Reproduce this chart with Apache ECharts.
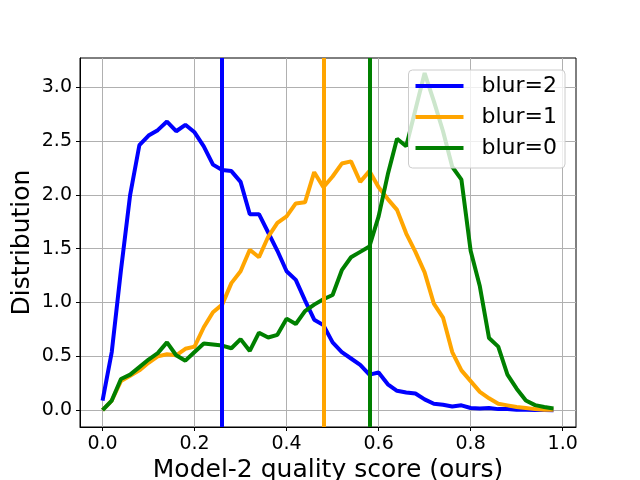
<!DOCTYPE html>
<html>
<head>
<meta charset="utf-8">
<script src="https://cdn.jsdelivr.net/npm/echarts@6/dist/echarts.min.js"></script>
<style>
  html, body { margin: 0; padding: 0; background: #fff; }
  #main { width: 640px; height: 480px; }
</style>
</head>
<body>
<div id="main"></div>
<script>
// x positions of the histogram points (0.00 .. 0.98)
var scores = [];
for (var i = 0; i < 50; i++) scores.push(+(i * 0.02).toFixed(2));

// distribution per blur level
var blur2 = [0.09, 0.54, 1.30, 2.00, 2.46, 2.55, 2.60, 2.68, 2.59, 2.65,
             2.58, 2.45, 2.28, 2.23, 2.22, 2.12, 1.82, 1.82, 1.65, 1.48,
             1.29, 1.21, 1.02, 0.84, 0.79, 0.63, 0.54, 0.48, 0.42, 0.33,
             0.35, 0.24, 0.18, 0.165, 0.155, 0.10, 0.06, 0.05, 0.035, 0.045,
             0.02, 0.015, 0.02, 0.01, 0.01, 0.005, 0.003, 0.002, 0.001, 0.0];
var blur1 = [0.0, 0.09, 0.27, 0.32, 0.37, 0.44, 0.50, 0.52, 0.51, 0.57,
             0.59, 0.77, 0.91, 0.98, 1.18, 1.29, 1.49, 1.42, 1.61, 1.74,
             1.80, 1.92, 1.93, 2.21, 2.07, 2.17, 2.29, 2.31, 2.12, 2.22,
             2.07, 1.96, 1.86, 1.64, 1.47, 1.28, 0.99, 0.86, 0.54, 0.37,
             0.27, 0.17, 0.11, 0.06, 0.045, 0.03, 0.02, 0.01, 0.005, 0.003];
var blur0 = [0.0, 0.09, 0.29, 0.33, 0.40, 0.47, 0.53, 0.63, 0.51, 0.46,
             0.54, 0.62, 0.61, 0.60, 0.575, 0.66, 0.55, 0.72, 0.675, 0.70,
             0.85, 0.80, 0.92, 0.98, 1.03, 1.07, 1.30, 1.42, 1.47, 1.52,
             1.80, 2.19, 2.52, 2.45, 2.79, 3.13, 2.87, 2.59, 2.26, 2.14,
             1.48, 1.15, 0.67, 0.59, 0.33, 0.20, 0.09, 0.047, 0.03, 0.015];

// mean score per blur level (vertical lines)
var means = [0.264, 0.482, 0.582];
var names = ['blur=2', 'blur=1', 'blur=0'];
var colors = ['#0000ff', '#ffa500', '#008000'];
var xTicks = [0, 0.2, 0.4, 0.6, 0.8, 1.0];
var yTicks = [0, 0.5, 1.0, 1.5, 2.0, 2.5, 3.0];

var FONT = 'DejaVu Sans';

function pairs(ys) {
    return scores.map(function (x, i) { return [x, ys[i]]; });
}

var chart = echarts.init(document.getElementById('main'));
var allData = [blur2, blur1, blur0];
var series = allData.map(function (d, i) {
    return {
        name: names[i],
        type: 'line',
        data: pairs(d),
        showSymbol: false,
        color: colors[i],
        lineStyle: { width: 4, color: colors[i] },
        itemStyle: { color: colors[i] },
        z: 2,
        markLine: {
            silent: true,
            symbol: ['none', 'none'],
            label: { show: false },
            lineStyle: { color: colors[i], width: 4, type: 'solid' },
            data: [{ xAxis: means[i] }],
            animation: false
        }
    };
});

chart.setOption({
    animation: false,
    backgroundColor: '#fff',
    grid: {
        left: 80, right: 64, top: 58, bottom: 53,
        containLabel: false,
        outerBoundsMode: 'none',
        show: true, borderColor: '#000', borderWidth: 1,
        backgroundColor: 'transparent'
    },
    legend: {
        orient: 'vertical',
        right: 75, top: 70,
        data: names,
        icon: 'rect',
        itemWidth: 48, itemHeight: 4,
        itemGap: 9,
        padding: [5, 8, 9, 7],
        backgroundColor: 'rgba(255,255,255,0.8)',
        borderColor: '#cccccc', borderWidth: 1, borderRadius: 4,
        textStyle: {
            fontFamily: FONT, fontSize: 22, color: '#000',
            lineHeight: 22, padding: [0, 0, 0, 13]
        }
    },
    xAxis: {
        type: 'value',
        min: -0.049, max: 1.029,
        name: 'Model-2 quality score (ours)',
        nameLocation: 'middle',
        nameGap: 31,
        nameMoveOverlap: false,
        nameTextStyle: { fontFamily: FONT, fontSize: 25, color: '#000' },
        axisLine: { show: true, onZero: false, lineStyle: { color: '#000', width: 1 } },
        axisTick: { show: true, length: 4, lineStyle: { color: '#000' }, customValues: xTicks },
        axisLabel: {
            fontFamily: FONT, fontSize: 19, color: '#000', margin: 8,
            customValues: xTicks,
            formatter: function (v) { return v.toFixed(1); }
        },
        splitLine: { show: true, lineStyle: { color: '#b0b0b0', width: 1 } }
    },
    yAxis: {
        type: 'value',
        min: -0.156, max: 3.27,
        name: 'Distribution',
        nameLocation: 'middle',
        nameGap: 45,
        nameMoveOverlap: false,
        nameTextStyle: { fontFamily: FONT, fontSize: 25, color: '#000' },
        axisLine: { show: true, onZero: false, lineStyle: { color: '#000', width: 1 } },
        axisTick: { show: true, length: 4, lineStyle: { color: '#000' }, customValues: yTicks },
        axisLabel: {
            fontFamily: FONT, fontSize: 19, color: '#000', margin: 8,
            customValues: yTicks,
            formatter: function (v) { return v.toFixed(1); }
        },
        splitLine: { show: true, lineStyle: { color: '#b0b0b0', width: 1 } }
    },
    series: series
});
</script>
</body>
</html>
